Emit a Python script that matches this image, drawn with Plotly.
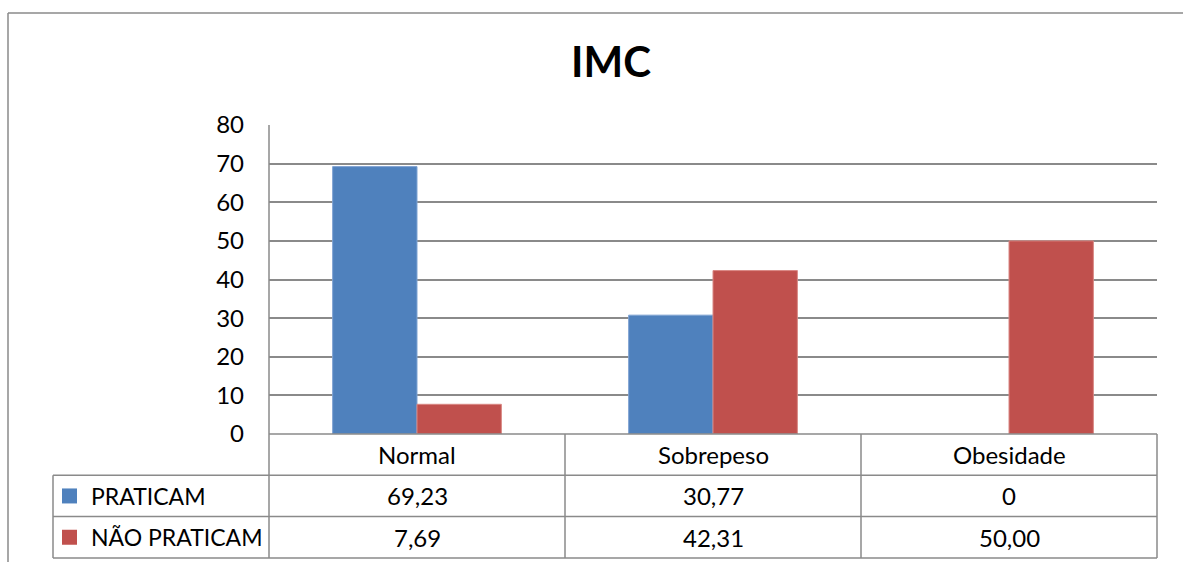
import plotly.graph_objects as go

# IMC distribution (%) by physical-activity group
categories = ["Normal", "Sobrepeso", "Obesidade"]
series_names = ["PRATICAM", "NÃO PRATICAM"]
praticam = [69.23, 30.77, 0]
nao_praticam = [7.69, 42.31, 50.00]
y_ticks = [0, 10, 20, 30, 40, 50, 60, 70, 80]

W, H = 1183, 562
FONT = "Lato, 'Open Sans', sans-serif"
GRID = "#8a8a8a"
COLORS = ["#4F81BD", "#C0504D"]
EDGES = ["#7fa3d3", "#d98784"]
TXT = 24

# plot area in pixels
PX0, PX1 = 269, 1157
PY_TOP, PY_BOT = 125, 434
ROW_H = 41.3
LEFT_TABLE = 53


def fx(px):
    return px / W


def fy(py):
    return 1 - py / H


def fmt(v):
    return "0" if v == 0 else f"{v:.2f}".replace(".", ",")


fig = go.Figure()
for name, vals, col, edge in zip(series_names, [praticam, nao_praticam], COLORS, EDGES):
    fig.add_trace(go.Bar(
        x=categories, y=vals, name=name,
        marker=dict(color=col, line=dict(color=edge, width=[1 if v else 0 for v in vals])),
        showlegend=False,
    ))

LINE = dict(color=GRID, width=1.5)
shapes = []
# outer chart frame
shapes.append(dict(type="line", xref="paper", yref="paper",
                   x0=fx(8), x1=fx(8), y0=fy(13), y1=fy(H + 5), line=LINE))
shapes.append(dict(type="line", xref="paper", yref="paper",
                   x0=fx(8), x1=fx(W + 5), y0=fy(13), y1=fy(13), line=LINE))

# data table grid
row_lines = [PY_BOT + ROW_H * k for k in range(1, len(series_names) + 2)]
for yl in row_lines:
    shapes.append(dict(type="line", xref="paper", yref="paper",
                       x0=fx(LEFT_TABLE), x1=fx(PX1), y0=fy(yl), y1=fy(yl), line=LINE))
shapes.append(dict(type="line", xref="paper", yref="paper",
                   x0=fx(PX0), x1=fx(PX1), y0=fy(PY_BOT), y1=fy(PY_BOT), line=LINE))
col_w = (PX1 - PX0) / len(categories)
for k in range(len(categories) + 1):
    xl = PX0 + col_w * k
    y_start = PY_TOP if k == 0 else PY_BOT
    shapes.append(dict(type="line", xref="paper", yref="paper",
                       x0=fx(xl), x1=fx(xl), y0=fy(y_start), y1=fy(row_lines[-1]), line=LINE))
shapes.append(dict(type="line", xref="paper", yref="paper",
                   x0=fx(LEFT_TABLE), x1=fx(LEFT_TABLE), y0=fy(row_lines[0]), y1=fy(row_lines[-1]),
                   line=LINE))

annotations = [dict(text="<b>IMC</b>", x=fx(611), y=fy(61), xref="paper", yref="paper",
                    showarrow=False, font=dict(family=FONT, size=42, color="#000000"),
                    xanchor="center", yanchor="middle")]

# header row with category names
for i, c in enumerate(categories):
    annotations.append(dict(text=c, x=fx(PX0 + col_w * (i + 0.5)), y=fy(PY_BOT + ROW_H / 2),
                            xref="paper", yref="paper", showarrow=False,
                            font=dict(family=FONT, size=TXT, color="#000"),
                            xanchor="center", yanchor="middle"))

# series rows with legend keys and values
for r, (name, vals, col) in enumerate(zip(series_names, [praticam, nao_praticam], COLORS)):
    yc = PY_BOT + ROW_H * (r + 1.5)
    shapes.append(dict(type="rect", xref="paper", yref="paper",
                       x0=fx(62), x1=fx(77), y0=fy(yc - 7.5), y1=fy(yc + 7.5),
                       fillcolor=col, line=dict(width=0)))
    annotations.append(dict(text=name, x=fx(89), y=fy(yc), xref="paper", yref="paper",
                            showarrow=False, font=dict(family=FONT, size=23, color="#000"),
                            xanchor="left", yanchor="middle"))
    for i, v in enumerate(vals):
        annotations.append(dict(text=fmt(v), x=fx(PX0 + col_w * (i + 0.5)), y=fy(yc),
                                xref="paper", yref="paper", showarrow=False,
                                font=dict(family=FONT, size=TXT, color="#000"),
                                xanchor="center", yanchor="middle"))

fig.update_layout(
    template="none",
    width=W, height=H,
    margin=dict(l=0, r=0, t=0, b=0, pad=0, autoexpand=False),
    paper_bgcolor="white", plot_bgcolor="white",
    barmode="group", bargap=0.43, bargroupgap=0,
    shapes=shapes, annotations=annotations,
    xaxis=dict(domain=[fx(PX0), fx(PX1)], showticklabels=False, showgrid=False,
               zeroline=False, showline=False, fixedrange=True, automargin=False, ticks=""),
    yaxis=dict(domain=[fy(PY_BOT), fy(PY_TOP)], range=[0, 80], tickvals=y_ticks,
               showgrid=True, gridcolor=GRID, gridwidth=1.5, zeroline=False,
               showline=False, ticks="", ticklabelstandoff=24, automargin=False,
               tickfont=dict(family=FONT, size=TXT, color="#000")),
)

fig.write_html("out.html")
